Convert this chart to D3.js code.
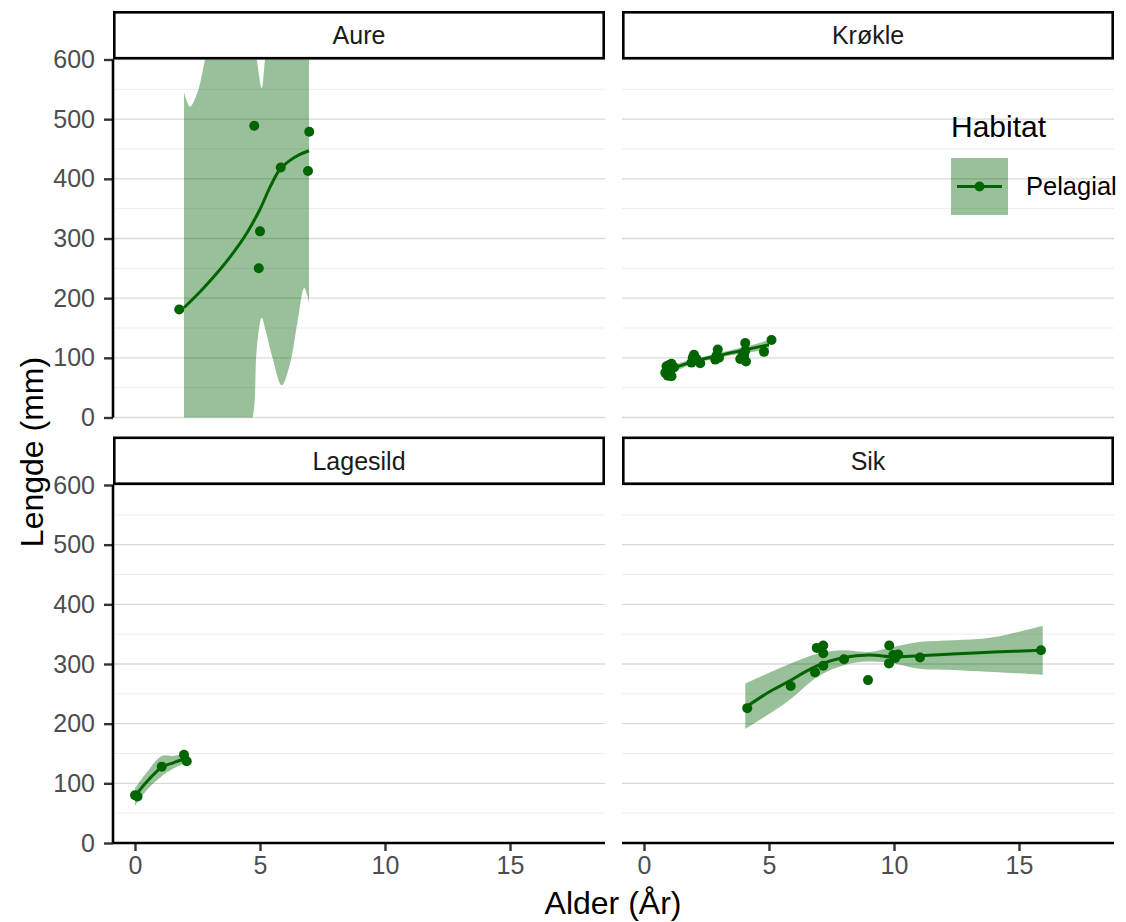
<!DOCTYPE html>
<html>
<head>
  <meta charset="utf-8">
  <title>Lengde og alder</title>
  <style type="text/css">
    body { margin: 0; background: #fff; }
    svg { font-family: "Liberation Sans", Arial, sans-serif; }
    .grid-major { stroke: #d9d9d9; stroke-width: 1.4; }
    .grid-minor { stroke: #ededed; stroke-width: 1; }
  </style>
</head>
<body>
  <script src="https://cdn.jsdelivr.net/npm/d3@7/dist/d3.min.js"></script>
  <script type="text/javascript">
    // values
    var species = ["Aure", "Krøkle", "Lagesild", "Sik"];
    var xTicks = [0, 5, 10, 15];
    var yTicks = [0, 100, 200, 300, 400, 500, 600];
    var yMinor = [50, 150, 250, 350, 450, 550];

    // Aure
    var aureAge = [1.77, 4.77, 6.97, 5.83, 6.92, 5.0, 4.95];
    var aureLen = [181, 489, 479, 419, 413, 312, 250];
    var aureFitX = [1.96, 2.7, 3.4, 4.0, 4.5, 5.0, 5.4, 5.8, 6.2, 6.6, 6.96];
    var aureFitY = [184, 215, 248, 280, 311, 349, 386, 416, 431, 441, 447];
    var aureBandX = [1.96, 2.2, 2.5, 2.8, 3.2, 3.6, 4.0, 4.4, 4.71, 4.87, 5.07, 5.2, 5.5, 5.87, 6.2, 6.5, 6.77, 6.96];
    var aureBandHi = [545, 521, 545, 600, 680, 760, 790, 720, 640, 600, 552, 600, 700, 800, 830, 850, 850, 850];
    var aureBandLo = [-500, -420, -340, -260, -190, -130, -80, -30, 0, 115, 167, 150, 100, 54, 90, 160, 217, 193];

    // Krøkle
    var krokleAge = [0.85, 0.9, 0.95, 1.0, 1.0, 1.05, 1.1, 1.1, 1.2, 1.9, 1.95, 2.0, 2.1, 2.25, 2.85, 2.9, 2.95, 3.0, 3.85, 3.95, 4.0, 4.05, 4.08, 4.05, 4.8, 5.1];
    var krokleLen = [75, 86, 70, 80, 88, 73, 69, 90, 84, 92, 100, 105, 98, 91, 97, 104, 114, 100, 98, 106, 103, 112, 94, 125, 110, 130];
    var krokleFitX = [0.85, 2, 3, 4, 5.0];
    var krokleFitY = [78, 94, 104, 113, 122];
    var krokleBandLo = [71, 90, 100, 108, 114];
    var krokleBandHi = [85, 98, 108, 118, 130];

    // Lagesild
    var lagesildAge = [0.0, 0.1, 1.07, 1.96, 2.07];
    var lagesildLen = [80, 78, 128, 148, 137];
    var lagesildFitX = [0.0, 0.5, 1.07, 1.5, 2.05];
    var lagesildFitY = [79, 104, 127, 134, 142];
    var lagesildBandLo = [62, 90, 112, 124, 135];
    var lagesildBandHi = [92, 120, 146, 146, 150];

    // Sik
    var sikAge = [4.13, 5.87, 6.84, 6.91, 7.17, 7.17, 7.17, 8.0, 8.96, 9.81, 9.8, 9.97, 10.17, 10.05, 11.04, 15.88];
    var sikLen = [226, 263, 286, 327, 331, 318, 297, 308, 273, 331, 301, 315, 316, 310, 311, 323];
    var sikFitX = [4.05, 5, 5.8, 6.5, 7.1, 8.0, 9.0, 10.0, 11.0, 12.5, 14, 15.9];
    var sikFitY = [227, 253, 271, 288, 300, 311, 315, 312, 314, 317, 320, 323];
    var sikBandX = [4.05, 5.7, 7.0, 8.0, 9.0, 10.0, 11.0, 12.4, 13.7, 14.7, 15.95];
    var sikBandHi = [267, 298, 318, 323, 320, 329, 337, 340, 343, 351, 364];
    var sikBandLo = [191, 236, 280, 298, 304, 301, 292, 290, 287, 285, 282];

    var panelData = [
      { name: "Aure", age: aureAge, len: aureLen, fitX: aureFitX, fitY: aureFitY, bandX: aureBandX, lo: aureBandLo, hi: aureBandHi },
      { name: "Krøkle", age: krokleAge, len: krokleLen, fitX: krokleFitX, fitY: krokleFitY, bandX: krokleFitX, lo: krokleBandLo, hi: krokleBandHi },
      { name: "Lagesild", age: lagesildAge, len: lagesildLen, fitX: lagesildFitX, fitY: lagesildFitY, bandX: lagesildFitX, lo: lagesildBandLo, hi: lagesildBandHi },
      { name: "Sik", age: sikAge, len: sikLen, fitX: sikFitX, fitY: sikFitY, bandX: sikBandX, lo: sikBandLo, hi: sikBandHi }
    ];

    var w = 1126, h = 922;
    var green = "#006400";
    var colX = [113, 622], rowTop = [11, 436.5];
    var pw = 492, stripH = 48.5, ph = 358;

    var x = d3.scaleLinear().domain([-0.88, 18.8]).range([0, pw]);
    var y = d3.scaleLinear().domain([0, 600]).range([ph, 0]);
    var smooth = d3.curveCatmullRom.alpha(0.5);

    var svg = d3.select("body").append("svg")
      .attr("width", w)
      .attr("height", h);

    panelData.forEach(function(p, i) {
      var col = i % 2, row = Math.floor(i / 2);
      var g = svg.append("g")
        .attr("transform", "translate(" + colX[col] + "," + (rowTop[row] + stripH) + ")");

      g.append("clipPath").attr("id", "clip" + i)
        .append("rect").attr("width", pw).attr("height", ph);

      // grid
      g.selectAll(".grid-minor").data(yMinor).enter().append("line")
        .attr("class", "grid-minor")
        .attr("x1", 0).attr("x2", pw)
        .attr("y1", d => y(d)).attr("y2", d => y(d));
      g.selectAll(".grid-major").data(yTicks).enter().append("line")
        .attr("class", "grid-major")
        .attr("x1", 0).attr("x2", pw)
        .attr("y1", d => y(d)).attr("y2", d => y(d));

      var inner = g.append("g").attr("clip-path", "url(#clip" + i + ")");

      var band = p.bandX.map((v, k) => ({ x: v, lo: p.lo[k], hi: p.hi[k] }));
      inner.append("path")
        .datum(band)
        .attr("fill", green)
        .attr("fill-opacity", 0.4)
        .attr("d", d3.area().curve(smooth)
          .x(d => x(d.x)).y0(d => y(d.lo)).y1(d => y(d.hi)));

      var fit = p.fitX.map((v, k) => [v, p.fitY[k]]);
      inner.append("path")
        .datum(fit)
        .attr("fill", "none")
        .attr("stroke", green)
        .attr("stroke-width", 3)
        .attr("d", d3.line().curve(smooth).x(d => x(d[0])).y(d => y(d[1])));

      inner.selectAll("circle").data(p.age.map((v, k) => [v, p.len[k]])).enter()
        .append("circle")
        .attr("cx", d => x(d[0]))
        .attr("cy", d => y(d[1]))
        .attr("r", 5)
        .attr("fill", green);

      // strip
      var strip = svg.append("g")
        .attr("transform", "translate(" + colX[col] + "," + rowTop[row] + ")");
      strip.append("rect")
        .attr("x", 1.3).attr("y", 1.3)
        .attr("width", pw - 2.6).attr("height", stripH - 2.6)
        .attr("fill", "#fff").attr("stroke", "#000").attr("stroke-width", 2.6);
      strip.append("text")
        .attr("x", pw / 2).attr("y", stripH / 2 + 9)
        .attr("text-anchor", "middle")
        .attr("font-size", 25)
        .attr("fill", "#1a1a1a")
        .text(p.name);

      // axes
      if (col == 0) {
        var ya = g.append("g").call(d3.axisLeft(y).tickValues(yTicks).tickSize(9).tickPadding(9));
        ya.select(".domain").remove();
        ya.selectAll(".tick line").attr("stroke", "#333").attr("stroke-width", 2.4);
        ya.selectAll(".tick text").attr("font-size", 25).attr("fill", "#4d4d4d")
          .attr("font-family", "Liberation Sans, Arial, sans-serif");
        g.append("line").attr("x1", 0).attr("x2", 0).attr("y1", 0).attr("y2", ph)
          .attr("stroke", "#000").attr("stroke-width", 2.6);
      }
      if (row == 1) {
        var xa = g.append("g").attr("transform", "translate(0," + ph + ")")
          .call(d3.axisBottom(x).tickValues(xTicks).tickSize(8).tickPadding(5));
        xa.select(".domain").remove();
        xa.selectAll(".tick line").attr("stroke", "#333").attr("stroke-width", 2.4);
        xa.selectAll(".tick text").attr("font-size", 25).attr("fill", "#4d4d4d")
          .attr("font-family", "Liberation Sans, Arial, sans-serif");
        g.append("line").attr("x1", 0).attr("x2", pw).attr("y1", ph).attr("y2", ph)
          .attr("stroke", "#000").attr("stroke-width", 2.6);
      }

      // legend inside Krøkle panel
      if (p.name == "Krøkle") {
        var lg = svg.append("g").attr("transform", "translate(951,116)");
        lg.append("text").attr("x", 0).attr("y", 21)
          .attr("font-size", 30).attr("fill", "#000").text("Habitat");
        lg.append("rect").attr("x", 0).attr("y", 42).attr("width", 57).attr("height", 57)
          .attr("fill", green).attr("fill-opacity", 0.4);
        lg.append("line").attr("x1", 6).attr("x2", 51).attr("y1", 70.5).attr("y2", 70.5)
          .attr("stroke", green).attr("stroke-width", 3);
        lg.append("circle").attr("cx", 28.5).attr("cy", 70.5).attr("r", 5).attr("fill", green);
        lg.append("text").attr("x", 75).attr("y", 79)
          .attr("font-size", 25.5).attr("fill", "#000").text("Pelagial");
      }
    });

    // axis titles
    svg.append("text")
      .attr("transform", "translate(43,452) rotate(-90)")
      .attr("text-anchor", "middle")
      .attr("font-size", 32)
      .text("Lengde (mm)");
    svg.append("text")
      .attr("x", 613).attr("y", 914)
      .attr("text-anchor", "middle")
      .attr("font-size", 32)
      .text("Alder (År)");
  </script>
</body>
</html>
